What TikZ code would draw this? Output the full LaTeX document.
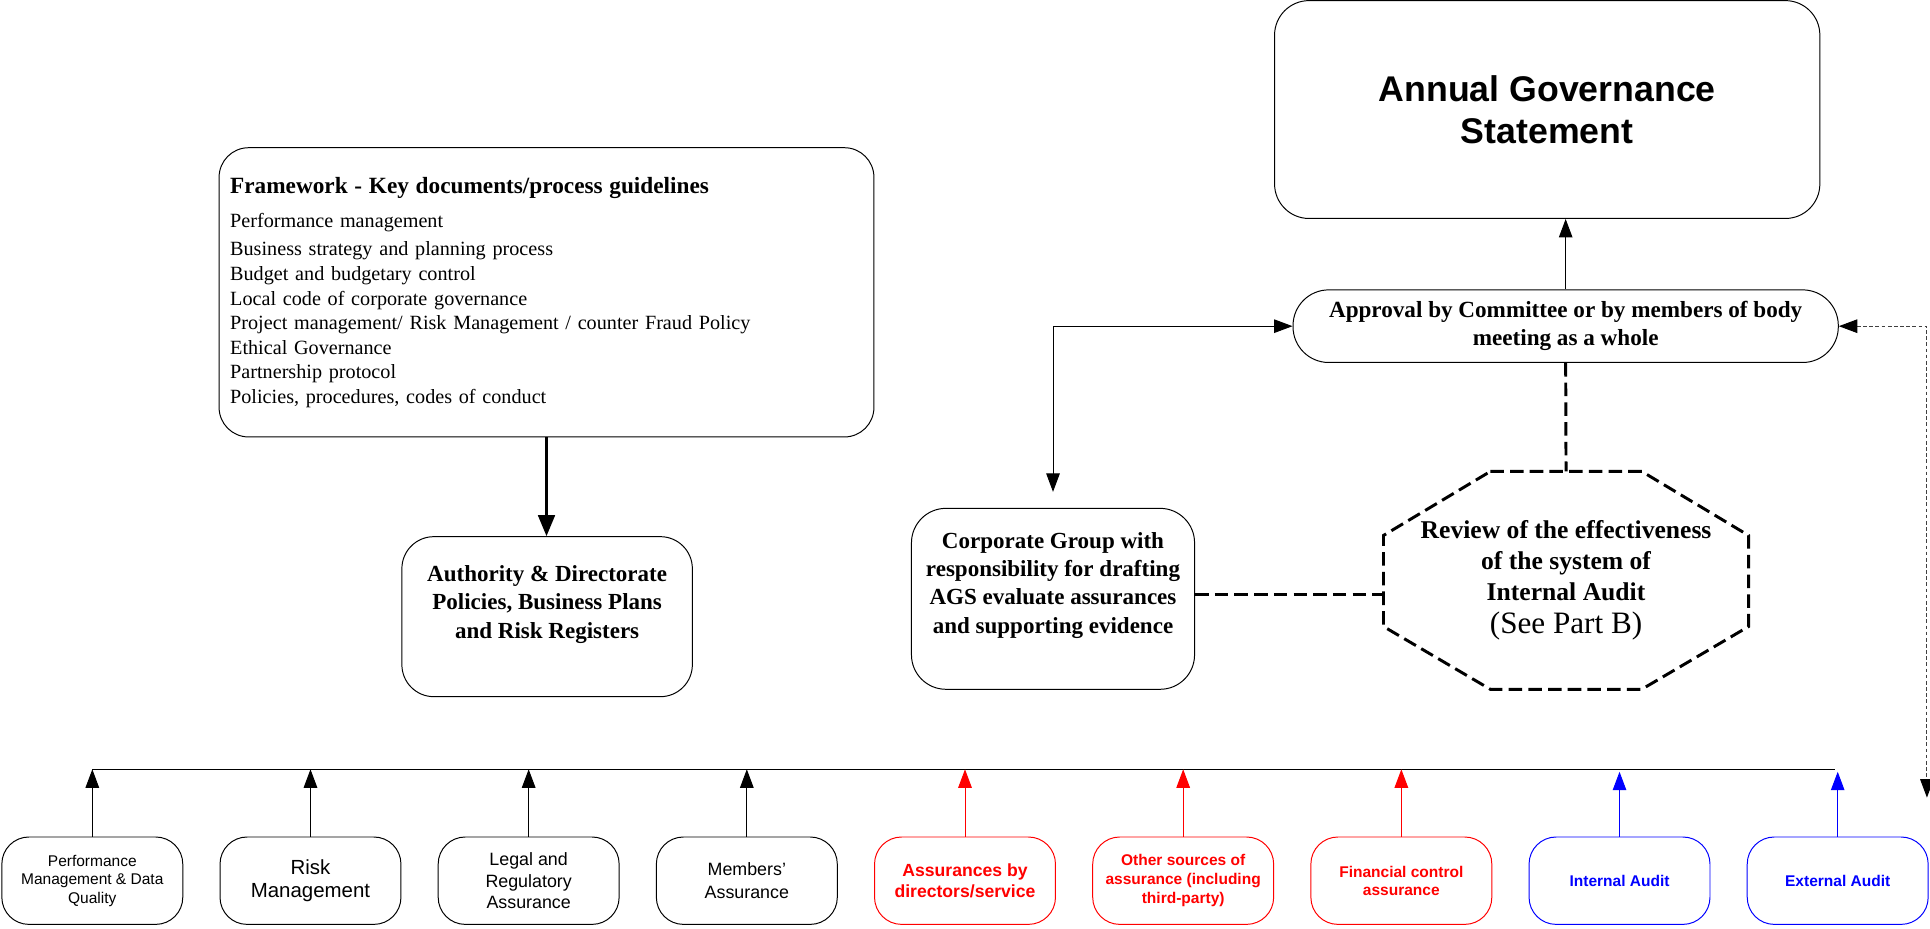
\documentclass[tikz,border=0pt]{standalone}
\usepackage{fontspec}
\setmainfont{Liberation Serif}
\setsansfont{Liberation Sans}
\usetikzlibrary{arrows.meta,positioning}

\newcommand{\fsz}[2]{\fontsize{#1}{#2}\selectfont}

\begin{document}
\begin{tikzpicture}[x=1pt,y=-1pt,line width=0.8pt,node distance=177.25pt,
    >={Triangle[length=15pt,width=11pt]},
    box/.style={draw,rounded corners=26pt,align=center,inner sep=2pt},
    leafbox/.style={box,rounded corners=22pt,minimum width=147pt,minimum height=71pt},
    leaf/.style={leafbox,font=\sffamily\fsz{12.6}{15}},
    redleaf/.style={leafbox,red,font=\sffamily\bfseries\fsz{12.6}{15.5}},
    blueleaf/.style={leafbox,blue,font=\sffamily\bfseries\fsz{12.6}{15.5}},
    link/.style={line width=2.4pt,dash pattern=on 11pt off 5pt}]

  \useasboundingbox (0,0) rectangle (1568,754);

  \node[box,rounded corners=28pt,minimum width=443pt,minimum height=177pt,
    font=\sffamily\bfseries\fsz{29}{34}] (ags) at (1257,89) {Annual Governance\\Statement};
  \node[box,rounded corners=29pt,minimum width=443pt,minimum height=59pt,
    font=\bfseries\fsz{18.8}{22.5}] (appr) at (1272,265) {Approval by Committee or by members of body\\meeting as a whole};

  \node[box,rounded corners=24pt,minimum width=532pt,minimum height=235pt,text width=514pt,
    align=left,font=\fsz{16.4}{20}] (frame) at (444,237.5)
    {{\bfseries\fsz{18.9}{20}Framework - Key documents/process guidelines}\\[8pt]
     Performance management\\[3pt]
     Business strategy and planning process\\
     Budget and budgetary control\\
     Local code of corporate governance\\
     Project management/ Risk Management / counter Fraud Policy\\
     Ethical Governance\\
     Partnership protocol\\
     Policies, procedures, codes of conduct};
  \node[box,minimum width=236pt,minimum height=130pt,text depth=24pt,
    font=\bfseries\fsz{18.7}{23}] (auth) at (444.5,501)
    {Authority \& Directorate\\Policies, Business Plans\\and Risk Registers};

  \node[box,rounded corners=28pt,minimum width=230pt,minimum height=147pt,text depth=26pt,
    font=\bfseries\fsz{18.7}{23}] (corp) at (855.5,486.5)
    {Corporate Group with\\responsibility for drafting\\AGS evaluate assurances\\and supporting evidence};
  \node[align=center,font=\bfseries\fsz{20.8}{25}] (rev) at (1272.3,471.5)
    {Review of the effectiveness\\of the system of\\Internal Audit\\[2pt]{\mdseries\fsz{25.3}{27}(See Part B)}};
  \draw[link] (1210.8,383) -- (1333.8,383) -- (1420.6,435) -- (1420.6,509) -- (1333.8,560)
    -- (1210.8,560) -- (1124,509) -- (1124,435) -- cycle;

  \coordinate (revtop) at (1272.3,383);
  \coordinate (revleft) at (1124,483);
  \coordinate (rend) at (1565.5,648);
  \coordinate (busl) at (75,625);
  \coordinate (busr) at (1490.8,625);

  \node[leaf] (b1) at (75,715.5) {Performance\\Management \& Data\\Quality};
  \node[leaf,font=\sffamily\fsz{16.6}{18.5}] (b2) [right of=b1] {Risk\\Management};
  \node[leaf,font=\sffamily\fsz{14.5}{17.5}] (b3) [right of=b2] {Legal and\\Regulatory\\Assurance};
  \node[leaf,font=\sffamily\fsz{14.5}{18.5}] (b4) [right of=b3] {Members'\\Assurance};
  \node[redleaf,font=\sffamily\bfseries\fsz{14.3}{17.5}] (b5) [right of=b4] {Assurances by\\directors/service};
  \node[redleaf] (b6) [right of=b5] {Other sources of\\assurance (including\\third-party)};
  \node[redleaf,font=\sffamily\bfseries\fsz{12.6}{14.5}] (b7) [right of=b6] {Financial control\\assurance};
  \node[blueleaf] (b8) [right of=b7] {Internal Audit};
  \node[blueleaf] (b9) [right of=b8] {External Audit};

  \draw (busl) -- (busr);
  \path[->]
    (b1) edge (b1 |- busl)
    (b2) edge (b2 |- busl)
    (b3) edge (b3 |- busl)
    (b4) edge (b4 |- busl);
  \path[->,red]
    (b5) edge (b5 |- busl)
    (b6) edge (b6 |- busl)
    (b7) edge (b7 |- busl);
  \path[->,blue,shorten >=2pt]
    (b8) edge (b8 |- busl)
    (b9) edge (b9 |- busl);

  \path[->] (appr.north) edge (appr.north |- ags.south);
  \draw[<->,shorten >=13pt] (appr.west) -| (corp.north);
  \draw[{Triangle[length=15pt,width=11pt,black]}-{Triangle[length=15pt,width=11pt,black]},
    black!75,dash pattern=on 3pt off 2pt] (appr.east) -| (rend);
  \draw[->,line width=2.2pt,>={Triangle[length=17pt,width=13.5pt]}] (frame.south) -- (frame.south |- auth.north);
  \draw[link] (appr.south) -- (revtop);
  \draw[link] (revleft -| corp.east) -- (revleft);

\end{tikzpicture}
\end{document}
